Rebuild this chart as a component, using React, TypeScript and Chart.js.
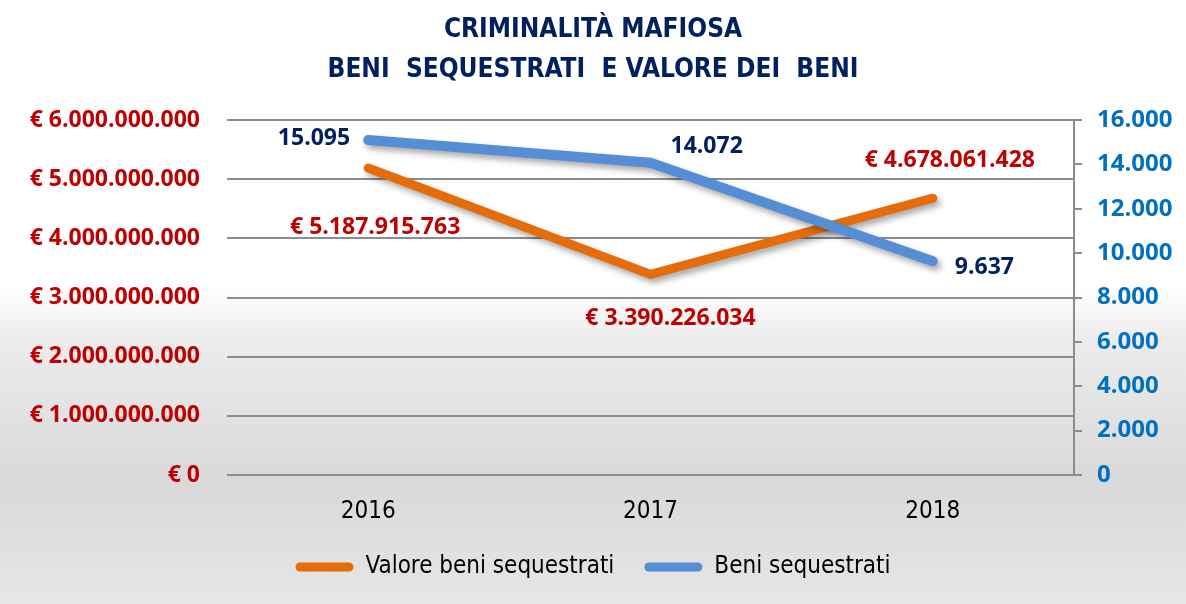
import React, { useEffect, useRef } from "react";
import { Chart, registerables } from "chart.js";

Chart.register(...registerables);

const categories = ["2016", "2017", "2018"];
const valoreBeni = [5187915763, 3390226034, 4678061428];
const beniSequestrati = [15095, 14072, 9637];
const titleLines = ["CRIMINALITÀ MAFIOSA", "BENI  SEQUESTRATI  E VALORE DEI  BENI"];
const seriesNames = ["Valore beni sequestrati", "Beni sequestrati"];

const fmt = (n: number) => String(Math.round(n)).replace(/\B(?=(\d{3})+(?!\d))/g, ".");

const ORANGE = "#E46C0A";
const BLUE = "#558ED5";
const RED = "#C00000";
const NAVY = "#002060";
const AXISBLUE = "#0070C0";
const GRID = "#8C8C8C";
const BOLD = "'Open Sans', 'DejaVu Sans', sans-serif";
const NARROW = "'Liberation Sans Narrow', 'DejaVu Sans Condensed', 'Open Sans', sans-serif";

// label offsets relative to each point: [dx, dy, align]
const labelOffsets: Record<number, [number, number, CanvasTextAlign][]> = {
  0: [[7, 59, "center"], [20, 44, "center"], [17, -38, "center"]],
  1: [[-18, -2, "right"], [20, -16, "left"], [22, 6, "left"]],
};

const bgPlugin = {
  id: "bg",
  beforeDraw(chart: any) {
    const { ctx, width, height } = chart;
    ctx.save();
    const g = ctx.createLinearGradient(0, 0, 0, height);
    g.addColorStop(0, "#ffffff");
    g.addColorStop(285 / height, "#ffffff");
    g.addColorStop(340 / height, "#ececec");
    g.addColorStop(480 / height, "#d9d9d9");
    g.addColorStop(1, "#e6e6e6");
    ctx.fillStyle = g;
    ctx.fillRect(0, 0, width, height);
    ctx.restore();
  },
};

const shadowPlugin = {
  id: "lineShadow",
  beforeDatasetDraw(chart: any) {
    const ctx = chart.ctx;
    ctx.save();
    ctx.shadowColor = "rgba(0,0,0,0.35)";
    ctx.shadowBlur = 6;
    ctx.shadowOffsetX = 3;
    ctx.shadowOffsetY = 4;
  },
  afterDatasetDraw(chart: any) {
    chart.ctx.restore();
  },
};

const labelsPlugin = {
  id: "pointLabels",
  afterDatasetsDraw(chart: any) {
    const ctx = chart.ctx;
    ctx.save();
    chart.data.datasets.forEach((ds: any, di: number) => {
      const meta = chart.getDatasetMeta(di);
      meta.data.forEach((pt: any, i: number) => {
        const v = ds.data[i];
        const [dx, dy, align] = labelOffsets[di][i];
        ctx.font = `bold 23px ${BOLD}`;
        ctx.fillStyle = di === 0 ? RED : NAVY;
        ctx.textAlign = align;
        ctx.textBaseline = "middle";
        ctx.fillText(di === 0 ? `€ ${fmt(v)}` : fmt(v), pt.x + dx, pt.y + dy);
      });
    });
    ctx.restore();
  },
};

export default function App() {
  const ref = useRef<HTMLCanvasElement | null>(null);
  useEffect(() => {
    if (!ref.current) return;
    const chart = new Chart(ref.current, {
      type: "line",
      data: {
        labels: categories,
        datasets: [
          {
            label: seriesNames[0],
            data: valoreBeni,
            borderColor: ORANGE,
            backgroundColor: ORANGE,
            borderWidth: 9,
            pointRadius: 0,
            borderCapStyle: "round",
            borderJoinStyle: "round",
            yAxisID: "y",
            order: 1,
          },
          {
            label: seriesNames[1],
            data: beniSequestrati,
            borderColor: BLUE,
            backgroundColor: BLUE,
            borderWidth: 10,
            pointRadius: 0,
            borderCapStyle: "round",
            borderJoinStyle: "round",
            yAxisID: "y1",
            order: 0,
          },
        ],
      },
      options: {
        animation: false,
        responsive: false,
        maintainAspectRatio: false,
        layout: { padding: { left: 0, right: 0, top: 0, bottom: 15 } },
        plugins: {
          title: {
            display: true,
            text: titleLines,
            color: NAVY,
            font: { family: NARROW, size: 26, weight: "bold", lineHeight: 40 / 26 },
            padding: { top: 10, bottom: 30 },
          },
          legend: {
            position: "bottom",
            labels: {
              boxWidth: 58,
              boxHeight: 9,
              padding: 30,
              color: "#000",
              font: { family: NARROW, size: 24 },
              useBorderRadius: true,
              borderRadius: 4.5,
              sort: (a: any, b: any) => a.datasetIndex - b.datasetIndex,
              generateLabels: (c: any) =>
                Chart.defaults.plugins.legend.labels.generateLabels(c).map((it: any) => ({
                  ...it,
                  lineWidth: 0,
                  strokeStyle: "rgba(0,0,0,0)",
                })),
            },
          },
          tooltip: { enabled: false },
        },
        scales: {
          x: {
            offset: true,
            grid: { display: false, drawTicks: false },
            border: { display: false },
            ticks: { color: "#000", font: { family: NARROW, size: 24 }, padding: 22 },
            afterFit: (s: any) => {
              s.height = 50;
            },
          },
          y: {
            position: "left",
            min: 0,
            max: 6000000000,
            ticks: {
              stepSize: 1000000000,
              color: RED,
              font: { family: BOLD, size: 23, weight: "bold" },
              padding: 27,
              callback: (v: any) => `€ ${fmt(Number(v))}`,
            },
            grid: { color: GRID, lineWidth: 2, drawTicks: false },
            border: { display: false },
            afterFit: (s: any) => {
              s.width = 227;
            },
          },
          y1: {
            position: "right",
            min: 0,
            max: 16000,
            ticks: {
              stepSize: 2000,
              color: AXISBLUE,
              font: { family: BOLD, size: 24, weight: "bold" },
              padding: 15,
              callback: (v: any) => fmt(Number(v)),
            },
            grid: { drawOnChartArea: false, color: GRID, lineWidth: 2, tickLength: 8 },
            border: { display: true, color: GRID, width: 2 },
            afterFit: (s: any) => {
              s.width = 112;
            },
          },
        },
      },
      plugins: [bgPlugin, shadowPlugin, labelsPlugin],
    });
    return () => chart.destroy();
  }, []);
  return (
    <div style={{ position: "absolute", left: 0, top: 0, width: 1186, height: 604 }}>
      <canvas ref={ref} width={1186} height={604} style={{ width: 1186, height: 604 }} />
    </div>
  );
}
